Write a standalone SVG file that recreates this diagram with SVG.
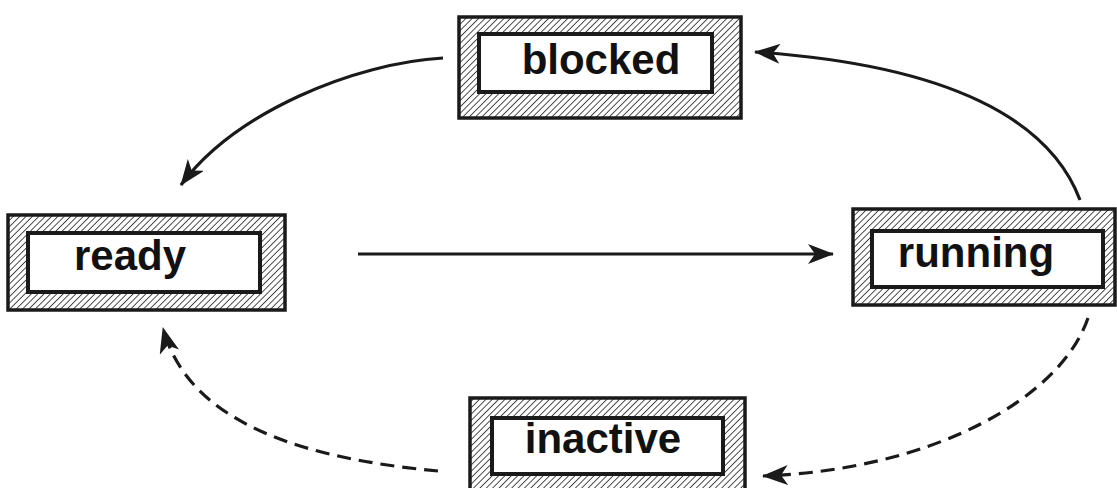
<svg xmlns="http://www.w3.org/2000/svg" width="1117" height="488" viewBox="0 0 1117 488">
<style>
.outer{fill:url(#hatch);stroke:#1a1a1a;stroke-width:3.5}
.inner{fill:#fff;stroke:#1a1a1a;stroke-width:4}
.lbl{font-family:"Liberation Sans",Arial,sans-serif;font-weight:bold;font-size:42px;fill:#111;text-anchor:middle}
.edge{fill:none;stroke:#1a1a1a;stroke-width:3.2;marker-end:url(#arr)}
.dash{stroke-dasharray:14 8}
</style>
<defs>
<pattern id="hatch" patternUnits="userSpaceOnUse" width="4.5" height="4.5" patternTransform="rotate(45)">
<rect width="4.5" height="4.5" fill="#fff"/>
<line x1="0" y1="0" x2="0" y2="4.5" stroke="#222" stroke-width="1.6"/>
</pattern>
<marker id="arr" markerUnits="userSpaceOnUse" viewBox="0 0 26 20" refX="25" refY="10" markerWidth="26" markerHeight="20" orient="auto">
<path d="M0,0 L26,10 L0,20 L7,10 Z" fill="#1a1a1a"/>
</marker>
</defs>
<g id="blocked">
<rect class="outer" x="459" y="17" width="282" height="101"/>
<rect class="inner" x="479" y="34" width="233" height="58"/>
<text class="lbl" x="601" y="74">blocked</text>
</g>
<g id="ready">
<rect class="outer" x="8" y="215" width="277" height="95"/>
<rect class="inner" x="28" y="233" width="232" height="59"/>
<text class="lbl" x="130" y="270">ready</text>
</g>
<g id="running">
<rect class="outer" x="853" y="209" width="262" height="96"/>
<rect class="inner" x="872" y="231" width="231" height="56"/>
<text class="lbl" x="976" y="267">running</text>
</g>
<g id="inactive">
<rect class="outer" x="470" y="398" width="275" height="100"/>
<rect class="inner" x="492" y="418" width="231" height="56"/>
<text class="lbl" x="603" y="453">inactive</text>
</g>
<g id="connectors">
<path class="edge" d="M443,58 C355,63 235,112 181,185"/>
<path class="edge" d="M1080,200 C1050,120 950,65 755,52"/>
<path class="edge" d="M358,254 L833,254"/>
<path class="edge dash" d="M1088,318 C1060,400 930,470 763,476"/>
<path class="edge dash" d="M438,471 C320,460 190,430 163,328"/>
</g>
</svg>
